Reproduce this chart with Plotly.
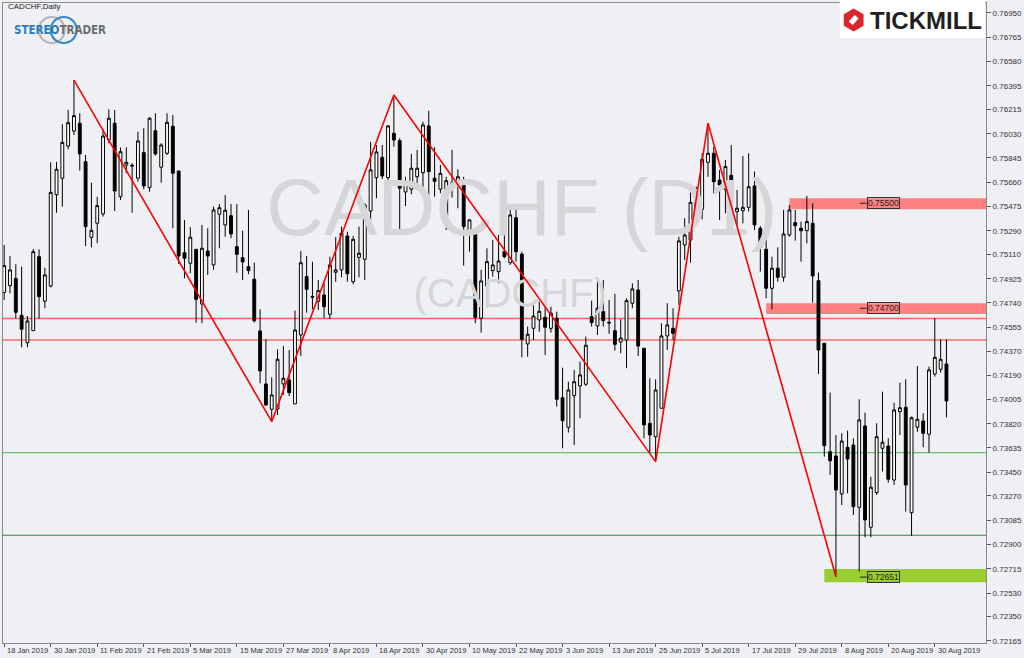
import plotly.graph_objects as go
import pandas as pd

# ---------------- data ----------------
dates = pd.bdate_range("2019-01-18", periods=163).strftime("%Y-%m-%d").tolist()

opens = [0.74821,0.74872,0.74926,0.74647,0.74437,0.74529,0.75093,0.74753,0.74869,0.75565,
         0.75691,0.75936,0.76050,0.76110,0.75817,0.75240,0.75348,0.75419,0.75982,0.76110,
         0.75550,0.75790,0.75790,0.75691,0.75886,0.75619,0.76053,0.75775,0.75881,0.76087,
         0.75746,0.75123,0.75043,0.75149,0.74733,0.75136,0.75030,0.75416,0.75335,0.75405,
         0.75169,0.75085,0.75017,0.74921,0.74527,0.74123,0.73930,0.73932,0.74123,0.74153,
         0.73971,0.74496,0.74941,0.74790,0.74753,0.74801,0.74654,0.74974,0.74992,0.75251,
         0.74902,0.75088,0.75073,0.75441,0.75695,0.75850,0.75695,0.76033,0.75977,0.75586,
         0.75607,0.75702,0.75733,0.76089,0.75691,0.75607,0.75405,0.75642,0.75634,0.75664,
         0.75283,0.75296,0.74624,0.74869,0.74987,0.74979,0.75131,0.75047,0.75390,0.75113,
         0.74428,0.74547,0.74611,0.74631,0.74547,0.74624,0.74018,0.73793,0.74034,0.74108,
         0.74121,0.74636,0.74565,0.74674,0.74593,0.74529,0.74443,0.74458,0.74738,0.74839,
         0.74395,0.73823,0.73721,0.73938,0.74489,0.74547,0.74832,0.75182,0.75220,0.75504,
         0.75454,0.75812,0.75881,0.75677,0.75607,0.75713,0.75436,0.75443,0.75469,0.75632,
         0.75309,0.75149,0.74852,0.75005,0.74936,0.75258,0.75352,0.75309,0.75291,0.75347,
         0.74910,0.74433,0.73607,0.73574,0.73285,0.73640,0.73658,0.73183,0.73803,0.73031,
         0.73295,0.73633,0.73650,0.73391,0.73912,0.73945,0.73142,0.73793,0.73841,0.73740,
         0.74199,0.74235,0.74275]
highs = [0.75182,0.75098,0.75035,0.75017,0.74641,0.75151,0.75149,0.75009,0.75812,0.75815,
         0.76102,0.76211,0.76439,0.76186,0.75868,0.75656,0.75550,0.76063,0.76216,0.76211,
         0.75926,0.75926,0.75805,0.76045,0.76072,0.76156,0.76186,0.75957,0.76186,0.76173,
         0.75746,0.75373,0.75317,0.75149,0.75335,0.75309,0.75474,0.75494,0.75563,0.75494,
         0.75494,0.75291,0.75449,0.75047,0.74692,0.74463,0.74174,0.74387,0.74413,0.74382,
         0.74682,0.75136,0.75098,0.75055,0.74915,0.74890,0.75093,0.75241,0.75322,0.75283,
         0.75251,0.75322,0.75500,0.75969,0.75944,0.75944,0.76097,0.76325,0.75995,0.75702,
         0.75876,0.75906,0.76122,0.76205,0.75927,0.75792,0.75702,0.75906,0.75759,0.75702,
         0.75378,0.75296,0.74992,0.75157,0.75220,0.75258,0.75360,0.75487,0.75494,0.75131,
         0.74560,0.74738,0.74750,0.74738,0.74712,0.74674,0.74247,0.74140,0.74230,0.74293,
         0.74483,0.74758,0.74928,0.74915,0.74763,0.74809,0.74616,0.74776,0.74890,0.74915,
         0.74395,0.74166,0.74158,0.74585,0.74738,0.74700,0.75245,0.75386,0.75588,0.75626,
         0.75881,0.76110,0.75931,0.75754,0.75830,0.75944,0.75601,0.75860,0.75881,0.75741,
         0.75327,0.75327,0.75093,0.75164,0.75449,0.75487,0.75449,0.75360,0.75556,0.75500,
         0.74971,0.74433,0.74057,0.73734,0.73747,0.73767,0.73709,0.74006,0.73904,0.73416,
         0.73823,0.74064,0.73709,0.73980,0.74133,0.74158,0.73874,0.74260,0.73900,0.74255,
         0.74624,0.74463,0.74463]
lows = [0.74763,0.74814,0.74624,0.74402,0.74402,0.74529,0.74621,0.74700,0.74859,0.75428,
        0.75474,0.75911,0.76020,0.75749,0.75174,0.75164,0.75195,0.75398,0.75957,0.75441,
        0.75525,0.75729,0.75428,0.75664,0.75607,0.75588,0.75863,0.75656,0.75868,0.75309,
        0.75037,0.74928,0.74967,0.74590,0.74585,0.74954,0.74992,0.75157,0.75245,0.75233,
        0.74971,0.74915,0.74959,0.74590,0.74128,0.73955,0.73836,0.73887,0.74039,0.74031,
        0.73971,0.74336,0.74666,0.74692,0.74687,0.74624,0.74618,0.74902,0.74936,0.74902,
        0.74883,0.74936,0.74915,0.75355,0.75538,0.75685,0.75652,0.75931,0.75296,0.75479,
        0.75568,0.75601,0.75601,0.75494,0.75550,0.75576,0.75296,0.75543,0.75462,0.75025,
        0.75131,0.74585,0.74514,0.74707,0.74941,0.74890,0.75081,0.75030,0.75055,0.74326,
        0.74331,0.74458,0.74521,0.74344,0.74514,0.73950,0.73633,0.73752,0.73658,0.73862,
        0.74108,0.74560,0.74496,0.74560,0.74504,0.74377,0.74357,0.74243,0.74700,0.74336,
        0.73709,0.73595,0.73531,0.73938,0.74382,0.74458,0.74725,0.75068,0.75047,0.75386,
        0.75378,0.75702,0.75576,0.75373,0.75424,0.75398,0.75335,0.75347,0.75436,0.75296,
        0.74979,0.74776,0.74692,0.74902,0.74902,0.75245,0.75215,0.75055,0.75195,0.74742,
        0.74199,0.73569,0.73430,0.72654,0.73201,0.73290,0.73125,0.72693,0.72955,0.72954,
        0.73277,0.73455,0.73371,0.73353,0.73734,0.73150,0.72965,0.73759,0.73641,0.73600,
        0.74179,0.74209,0.73869]
closes = [0.75025,0.74992,0.74669,0.74540,0.74603,0.75131,0.74788,0.74954,0.75583,0.75759,
          0.75964,0.76114,0.76168,0.75876,0.75322,0.75294,0.75482,0.76012,0.76148,0.75593,
          0.75893,0.75812,0.75784,0.75975,0.75632,0.76148,0.75876,0.75944,0.76117,0.75729,
          0.75098,0.75081,0.75241,0.74768,0.75157,0.75098,0.75449,0.75466,0.75447,0.75266,
          0.75111,0.75053,0.74987,0.74605,0.74222,0.73963,0.74039,0.74311,0.74166,0.74057,
          0.74534,0.75047,0.74844,0.74784,0.74834,0.74712,0.75030,0.74992,0.75271,0.74963,
          0.75225,0.75119,0.75487,0.75754,0.75891,0.75708,0.76089,0.75982,0.75614,0.75652,
          0.75767,0.75767,0.76097,0.75741,0.75668,0.75728,0.75672,0.75657,0.75702,0.75322,
          0.75373,0.74631,0.74908,0.75055,0.75030,0.75060,0.75093,0.75411,0.75131,0.74463,
          0.74502,0.74641,0.74677,0.74555,0.74662,0.74006,0.73843,0.74077,0.74140,0.74192,
          0.74418,0.74590,0.74700,0.74605,0.74588,0.74425,0.74473,0.74758,0.74847,0.74412,
          0.73811,0.73734,0.74077,0.74489,0.74573,0.74509,0.75213,0.75258,0.75507,0.75441,
          0.75835,0.75881,0.75664,0.75639,0.75779,0.75530,0.75462,0.75469,0.75626,0.75335,
          0.75164,0.74852,0.75005,0.74936,0.75266,0.75449,0.75329,0.75291,0.75360,0.74946,
          0.74382,0.73653,0.73538,0.73315,0.73688,0.73551,0.73188,0.73849,0.73087,0.73336,
          0.73721,0.73679,0.73397,0.73925,0.73942,0.73353,0.73866,0.73854,0.73747,0.74230,
          0.74326,0.74311,0.73993]

x_tick_dates = dates[::8]
x_tick_labels = ["18 Jan 2019", "30 Jan 2019", "11 Feb 2019", "21 Feb 2019", "5 Mar 2019",
                 "15 Mar 2019", "27 Mar 2019", "8 Apr 2019", "18 Apr 2019", "30 Apr 2019",
                 "10 May 2019", "22 May 2019", "3 Jun 2019", "13 Jun 2019", "25 Jun 2019",
                 "5 Jul 2019", "17 Jul 2019", "29 Jul 2019", "8 Aug 2019", "20 Aug 2019",
                 "30 Aug 2019"]
y_tick_values = [0.76950, 0.76765, 0.76580, 0.76395, 0.76215, 0.76030, 0.75845, 0.75660,
                 0.75475, 0.75290, 0.75110, 0.74925, 0.74740, 0.74555, 0.74370, 0.74190,
                 0.74005, 0.73820, 0.73635, 0.73450, 0.73270, 0.73085, 0.72900, 0.72715,
                 0.72530, 0.72350, 0.72165]

zigzag_dates = ["2019-02-05", "2019-03-25", "2019-04-23", "2019-06-25", "2019-07-08", "2019-08-07"]
zigzag_prices = [0.76439, 0.73836, 0.76325, 0.73531, 0.76110, 0.72654]

red_levels = [0.74622, 0.74458]
green_levels = [0.73600, 0.72970]

zone_labels = ["0.75500", "0.74700", "0.72651"]
zone_values = [0.75500, 0.74700, 0.72651]
zone_start = ["2019-07-26", "2019-07-22", "2019-08-05"]
zone_low = [0.75454, 0.74656, 0.72612]
zone_high = [0.75538, 0.74738, 0.72713]
zone_colors = ["#ff8080", "#ff8080", "#9acd32"]

# ---------------- layout geometry ----------------
W, H = 1024, 658
ML, MR, MT, MB = 2, 34, 3, 15
X_RANGE = [-0.2, 168.8]
Y_RANGE = [0.72149, 0.77026]
BG = "#eef0f3"
FONT = "Liberation Sans, Arial, sans-serif"


def fx(px):
    return (px - ML) / (W - ML - MR)


def fy(py):
    return (H - MB - py) / (H - MT - MB)


fig = go.Figure()

# watermark (drawn first, under the candles)
fig.add_trace(go.Scatter(x=[dates[89]], y=[0.75411], mode="text", text=["CADCHF (D1)"],
                         textfont=dict(size=80, color="#d5d6d8", family=FONT),
                         hoverinfo="skip", showlegend=False))
fig.add_trace(go.Scatter(x=[dates[87]], y=[0.74786], mode="text", text=["(CADCHF)"],
                         textfont=dict(size=40, color="#d5d6d8", family=FONT),
                         hoverinfo="skip", showlegend=False))

fig.add_trace(go.Candlestick(
    x=dates, open=opens, high=highs, low=lows, close=closes,
    increasing=dict(line=dict(color="#000000", width=1), fillcolor="#ffffff"),
    decreasing=dict(line=dict(color="#000000", width=1), fillcolor="#000000"),
    whiskerwidth=0, showlegend=False))

fig.add_trace(go.Scatter(x=zigzag_dates, y=zigzag_prices, mode="lines",
                         line=dict(color="#ff0000", width=1.6),
                         hoverinfo="skip", showlegend=False))

shapes = []
for i, lvl in enumerate(red_levels):
    shapes.append(dict(type="line", xref="paper", x0=0, x1=1, yref="y", y0=lvl, y1=lvl,
                       line=dict(color="#ff6060" if i == 0 else "#ff2a2a", width=1.4 if i == 0 else 1),
                       layer="below"))
for i, lvl in enumerate(green_levels):
    shapes.append(dict(type="line", xref="paper", x0=0, x1=1, yref="y", y0=lvl, y1=lvl,
                       line=dict(color="#6cc06c" if i == 0 else "#2e8b2e", width=1.4 if i == 0 else 1),
                       layer="below"))
annotations = []
for lab, val, st, lo, hi, col in zip(zone_labels, zone_values, zone_start, zone_low, zone_high, zone_colors):
    shapes.append(dict(type="rect", xref="x", yref="y", x0=dates.index(st), x1=X_RANGE[1],
                       y0=lo, y1=hi, fillcolor=col, line=dict(width=0), layer="below"))
    shapes.append(dict(type="line", xref="x", yref="y", x0=147.1, x1=148.3, y0=val, y1=val,
                       line=dict(color="#222222", width=1)))
    annotations.append(dict(x=148.3, y=val, xref="x", yref="y", text=lab, showarrow=False,
                            xanchor="left", yanchor="middle",
                            font=dict(size=8.5, color="#222222", family=FONT),
                            bordercolor="#333333", borderwidth=1, borderpad=0))

# x tick labels (left aligned to tick, like MT4)
for d, lab in zip(x_tick_dates, x_tick_labels):
    annotations.append(dict(x=dates.index(d), y=0, xref="x", yref="paper", text=lab,
                            showarrow=False, xanchor="left", yanchor="top", xshift=1, yshift=-1,
                            font=dict(size=7.5, color="#333333", family=FONT)))

# header text
annotations.append(dict(x=fx(5), y=fy(7), xref="paper", yref="paper", text="CADCHF,Daily",
                        showarrow=False, xanchor="left", yanchor="middle",
                        font=dict(size=8, color="#222222", family=FONT)))

# StereoTrader logo
for cx, col in [(51, "#b4b6b9"), (63, "#3a87bf")]:
    r = 13
    shapes.append(dict(type="circle", xref="paper", yref="paper",
                       x0=fx(cx - r), x1=fx(cx + r), y0=fy(30 + r), y1=fy(30 - r),
                       line=dict(color=col, width=2.2)))
annotations.append(dict(x=fx(59), y=fy(30), xref="paper", yref="paper",
                        text="<b><span style='color:#2b7bb9'>STEREO</span><span style='color:#6d6e71'>TRADER</span></b>",
                        showarrow=False, xanchor="center", yanchor="middle",
                        font=dict(size=11.5, family="Liberation Sans Narrow, DejaVu Sans Condensed, Roboto, sans-serif")))

# Tickmill logo
shapes.append(dict(type="rect", xref="paper", yref="paper", x0=fx(843), x1=fx(989),
                   y0=fy(38), y1=fy(0), fillcolor="#ffffff", line=dict(width=0)))
hx, hy, hr = 857, 20, 11.5
pts = [(hx, hy - hr), (hx + 0.866 * hr, hy - 0.5 * hr), (hx + 0.866 * hr, hy + 0.5 * hr),
       (hx, hy + hr), (hx - 0.866 * hr, hy + 0.5 * hr), (hx - 0.866 * hr, hy - 0.5 * hr)]
path = "M " + " L ".join(f"{fx(a):.5f},{fy(b):.5f}" for a, b in pts) + " Z"
shapes.append(dict(type="path", xref="paper", yref="paper", path=path,
                   fillcolor="#d9262c", line=dict(width=0)))
ipts = [(hx - 5, hy + 1.5), (hx + 1, hy - 5), (hx + 5, hy - 1.5), (hx - 1, hy + 5)]
ipath = "M " + " L ".join(f"{fx(a):.5f},{fy(b):.5f}" for a, b in ipts) + " Z"
shapes.append(dict(type="path", xref="paper", yref="paper", path=ipath,
                   fillcolor="#ffffff", line=dict(width=0)))
annotations.append(dict(x=fx(930), y=fy(20), xref="paper", yref="paper", text="<b>TICKMILL</b>",
                        showarrow=False, xanchor="center", yanchor="middle",
                        font=dict(size=24, color="#231f20", family=FONT)))

fig.update_layout(
    width=W, height=H,
    margin=dict(l=ML, r=MR, t=MT, b=MB, pad=0),
    paper_bgcolor=BG, plot_bgcolor=BG,
    showlegend=False,
    shapes=shapes, annotations=annotations,
    xaxis=dict(type="category", categoryorder="array", categoryarray=dates,
               range=X_RANGE, rangeslider=dict(visible=False),
               showgrid=False, zeroline=False, showline=True, linecolor="#8a8a8a", linewidth=1,
               mirror=True, ticks="outside", ticklen=3, tickcolor="#555555",
               tickvals=x_tick_dates, showticklabels=False),
    yaxis=dict(side="right", range=Y_RANGE, showgrid=False, zeroline=False,
               showline=True, linecolor="#8a8a8a", linewidth=1, mirror=True,
               ticks="outside", ticklen=4, tickcolor="#555555",
               tickvals=y_tick_values, ticktext=[f"{v:.5f}" for v in y_tick_values],
               tickfont=dict(size=8, color="#333333", family=FONT)),
)

fig.write_html("out.html", config={"displayModeBar": False},
               post_script="document.body.style.margin='0';document.body.style.overflow='hidden';")
